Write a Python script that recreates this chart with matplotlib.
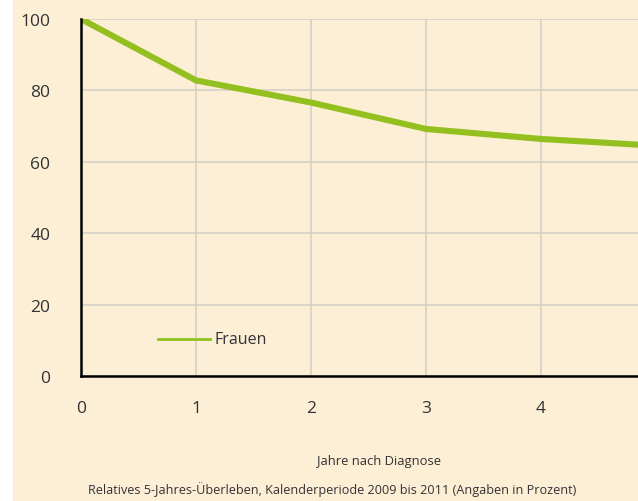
import matplotlib
matplotlib.use("Agg")
import matplotlib.pyplot as plt
from matplotlib.patches import Rectangle

# Relative survival (%) by years after diagnosis
years = [0, 1, 2, 3, 4, 5]
frauen = [100, 82.8, 76.6, 69.2, 66.4, 64.5]
y_ticks = [0, 20, 40, 60, 80, 100]
x_ticks = [0, 1, 2, 3, 4]

BG = "#fdeed6"
GREEN = "#93c01f"
GRID = "#d3cec6"
TEXT = "#333333"

plt.rcParams["font.family"] = ["Open Sans", "DejaVu Sans"]

W, H = 638, 502
fig = plt.figure(figsize=(W / 100, H / 100), dpi=100, facecolor="white")
fig.patches.append(Rectangle((13 / W, 0), 1 - 13 / W, 1, transform=fig.transFigure,
                             facecolor=BG, edgecolor="none", zorder=-10))

left, right, top, bottom = 81, 638, 20, 377
ax = fig.add_axes([left / W, 1 - bottom / H, (right - left) / W, (bottom - top) / H])
ax.set_facecolor(BG)

ax.plot(years, frauen, color=GREEN, lw=4.4, solid_capstyle="butt", clip_on=True, zorder=3)

ax.set_xlim(0, (right - left) / 115)
ax.set_ylim(0, 100)
ax.set_xticks(x_ticks)
ax.set_yticks(y_ticks)
ax.set_xticklabels([str(v) for v in x_ticks])
ax.set_yticklabels([str(v) for v in y_ticks])
ax.grid(True, color=GRID, lw=1.1)
ax.set_axisbelow(True)
ax.tick_params(length=0, labelsize=12.5, labelcolor=TEXT)
ax.tick_params(axis="x", pad=17)
ax.tick_params(axis="y", pad=22)
for s in ("top", "right"):
    ax.spines[s].set_visible(False)
for s in ("left", "bottom"):
    ax.spines[s].set_color("black")
    ax.spines[s].set_linewidth(1.8)
    ax.spines[s].set_zorder(4)

# legend entry
ax.plot([0.67, 1.12], [10.4, 10.4], color=GREEN, lw=2, zorder=3)
ax.text(1.16, 10.4, "Frauen", color=TEXT, fontsize=11.5, va="center", ha="left")

fig.text(379 / W, 1 - 462 / H, "Jahre nach Diagnose", color=TEXT, fontsize=9.4,
         ha="center", va="center")
fig.text(332 / W, 1 - 490 / H,
         "Relatives 5-Jahres-Überleben, Kalenderperiode 2009 bis 2011 (Angaben in Prozent)",
         color=TEXT, fontsize=9.1, ha="center", va="center")

fig.savefig("out.png", dpi=100, facecolor=fig.get_facecolor())
